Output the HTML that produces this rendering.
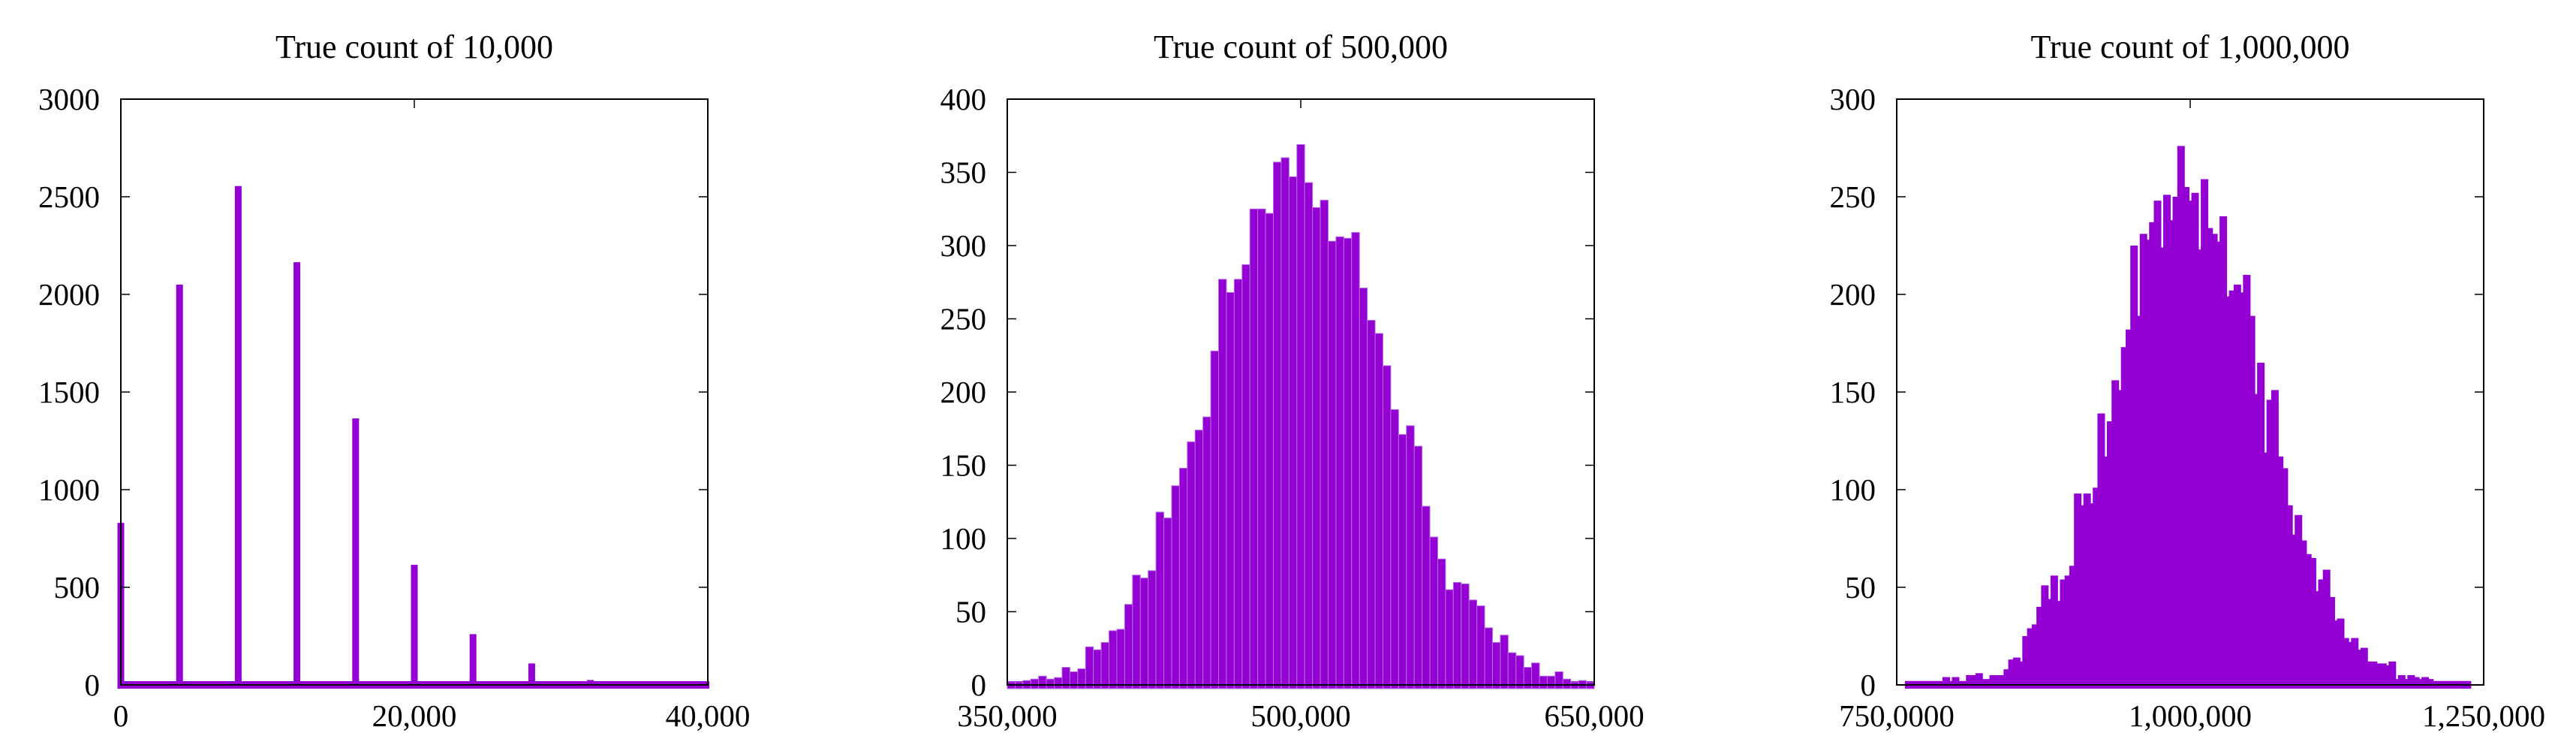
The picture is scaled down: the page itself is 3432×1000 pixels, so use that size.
<!DOCTYPE html>
<html><head><meta charset="utf-8">
<style>
html,body{margin:0;padding:0;background:#fff;}
svg{display:block;font-family:"Liberation Serif","DejaVu Serif",serif;}
</style></head>
<body>
<svg id="chart" width="3432" height="1000" viewBox="0 0 3432 1000" xmlns="http://www.w3.org/2000/svg"></svg>
<script>
// ---- Panel 1 data (true count 10,000) ----
const p1Positions = [0, 4000, 8000, 12000, 16000, 20000, 24000, 28000, 32000];
const p1Values = [830, 2050, 2555, 2165, 1365, 615, 260, 110, 25];
const p1YTicks = [0, 500, 1000, 1500, 2000, 2500, 3000];
const p1XTicks = [0, 20000, 40000];
const p1XTickLabels = ["0", "20,000", "40,000"];

// ---- Panel 2 data (true count 500,000) ----
const p2Values = [2,2,3,4,6,4,5,12,9,11,26,24,29,37,38,55,75,73,78,118,114,136,148,166,174,183,228,277,268,277,287,325,325,322,357,360,347,369,343,326,331,303,306,305,309,271,249,240,218,188,171,177,163,122,101,86,65,70,69,58,54,39,29,34,22,20,12,15,6,6,9,4,2,3,2];
const p2BinStart = [350000];
const p2BinEnd = [650000];
const p2YTicks = [0, 50, 100, 150, 200, 250, 300, 350, 400];
const p2XTicks = [350000, 500000, 650000];
const p2XTickLabels = ["350,000", "500,000", "650,000"];

// ---- Panel 3 data (true count 1,000,000) ----
const p3Values = [2,2,2,2,2,2,2,2,2,2,2,2,2,2,2,2, 4,4,4, 2, 4,4,4, 2,2,2, 5,5,5,5, 6,6,6, 3,3,3, 5,5,5,5,5,5, 8,8, 13,13, 14,14,14, 12, 25,25, 29,29, 31,31, 40,40, 51,51,51, 44, 56,56,56, 43, 54,54, 56,56, 61,61, 98,98,98, 92, 98,98,98, 93, 101,101, 139,139,139, 117, 135,135, 156,156,156, 151, 173,173, 182,182, 225,225,225, 189, 231,231,231, 228, 237,237, 248,248,248, 224, 251,251,251, 238, 250,250, 276,276,276, 255,255, 248, 252,252,252, 223, 259,259,259, 234,234, 231,231, 227, 240,240,240, 199, 202,202, 205,205,205, 201, 210,210,210, 189,189, 149, 165,165,165, 119, 146,146, 151,151,151, 117,117, 111,111, 92,92, 77, 87,87,87, 74,74, 67,67, 65,65, 48, 54,54, 59,59,59, 45,45, 33, 34,34,34, 24,24, 22, 24,24,24, 18, 19,19,19, 12,12,12,12, 11,11,11,11, 10, 12,12,12, 3, 5,5,5, 3, 5,5,5, 4,4, 3, 4,4,4, 3,3, 2,2,2,2,2,2,2,2,2,2,2,2,2,2,2,2];
const p3BinStart = [757000];
const p3BinEnd = [1239000];
const p3YTicks = [0, 50, 100, 150, 200, 250, 300];
const p3XTicks = [750000, 1000000, 1250000];
const p3XTickLabels = ["750,0000", "1,000,000", "1,250,000"];

const NS = "http://www.w3.org/2000/svg";
const svg = document.getElementById("chart");
const PURPLE = "#9400d3";
const TOP = 132, BOT = 912, W = 782;

function mk(tag, attrs, parent) {
  const e = document.createElementNS(NS, tag);
  for (const k in attrs) e.setAttribute(k, attrs[k]);
  parent.appendChild(e);
  return e;
}

function panel(opts) {
  const g = mk("g", {}, svg);
  
  
  const L = opts.left, R = opts.left + W;
  const xs = v => L + (v - opts.xmin) / (opts.xmax - opts.xmin) * (R - L);
  const ys = v => BOT - v / opts.ymax * (BOT - TOP);

  const t = mk("text", {x: (L + R) / 2, y: 77, "text-anchor": "middle", "font-size": 44, fill: "#000"}, g);
  t.textContent = opts.title;
  
  

  opts.draw(g, xs, ys, L, R);

  const frame = mk("rect", {x: L, y: TOP, width: W, height: BOT - TOP, fill: "none", stroke: "#000", "stroke-width": 2}, g);
  
  

  opts.yticks.forEach(v => {
    const y = ys(v);
    mk("line", {x1: L, x2: L + 12, y1: y, y2: y, stroke: "#000", "stroke-width": 1.5}, g);
    mk("line", {x1: R - 12, x2: R, y1: y, y2: y, stroke: "#000", "stroke-width": 1.5}, g);
    const lab = mk("text", {x: L - 28, y: y + 14, "text-anchor": "end", "font-size": 41, fill: "#000"}, g);
    lab.textContent = String(v);
    
    
  });
  opts.xticks.forEach((v, i) => {
    const x = xs(v);
    mk("line", {x1: x, x2: x, y1: TOP, y2: TOP + 12, stroke: "#000", "stroke-width": 1.5}, g);
    const lab = mk("text", {x: x, y: 967, "text-anchor": "middle", "font-size": 41, fill: "#000"}, g);
    lab.textContent = opts.xlabels[i];
    
    
  });
}

// Panel 1
panel({
  name: "panel-10000", left: 161, xmin: 0, xmax: 40000, ymax: 3000,
  title: "True count of 10,000", yticks: p1YTicks, xticks: p1XTicks, xlabels: p1XTickLabels,
  draw: (g, xs, ys, L, R) => {
    const strip = mk("rect", {x: L - 4, y: 907, width: R - L + 6, height: 10, fill: PURPLE}, g);
    
    
    p1Values.forEach((v, i) => {
      const x = xs(p1Positions[i]);
      const b = mk("rect", {x: x - 4.5, y: ys(v), width: 9, height: 917 - ys(v), fill: PURPLE}, g);
      
      
    });
  }
});

function binsDraw(values, start, end, stroke) {
  return (g, xs, ys, L, R) => {
    const bw = (end - start) / values.length;
    const strip = mk("rect", {x: xs(start), y: 907, width: xs(end) - xs(start), height: 10, fill: PURPLE}, g);
    
    
    values.forEach((v, i) => {
      const x0 = xs(start + i * bw), x1 = xs(start + (i + 1) * bw);
      const b = mk("rect", {x: x0, y: ys(v), width: x1 - x0 + (stroke ? 0 : 0.6), height: 917 - ys(v), fill: PURPLE}, g);
      if (stroke) { b.setAttribute("stroke", "#b56ee3"); b.setAttribute("stroke-width", "1"); }
      
      
    });
  };
}

// Panel 2
panel({
  name: "panel-500000", left: 1342, xmin: 350000, xmax: 650000, ymax: 400,
  title: "True count of 500,000", yticks: p2YTicks, xticks: p2XTicks, xlabels: p2XTickLabels,
  draw: binsDraw(p2Values, p2BinStart[0], p2BinEnd[0], true)
});

// Panel 3
panel({
  name: "panel-1000000", left: 2527, xmin: 750000, xmax: 1250000, ymax: 300,
  title: "True count of 1,000,000", yticks: p3YTicks, xticks: p3XTicks, xlabels: p3XTickLabels,
  draw: binsDraw(p3Values, p3BinStart[0], p3BinEnd[0], false)
});
</script>
</body></html>
